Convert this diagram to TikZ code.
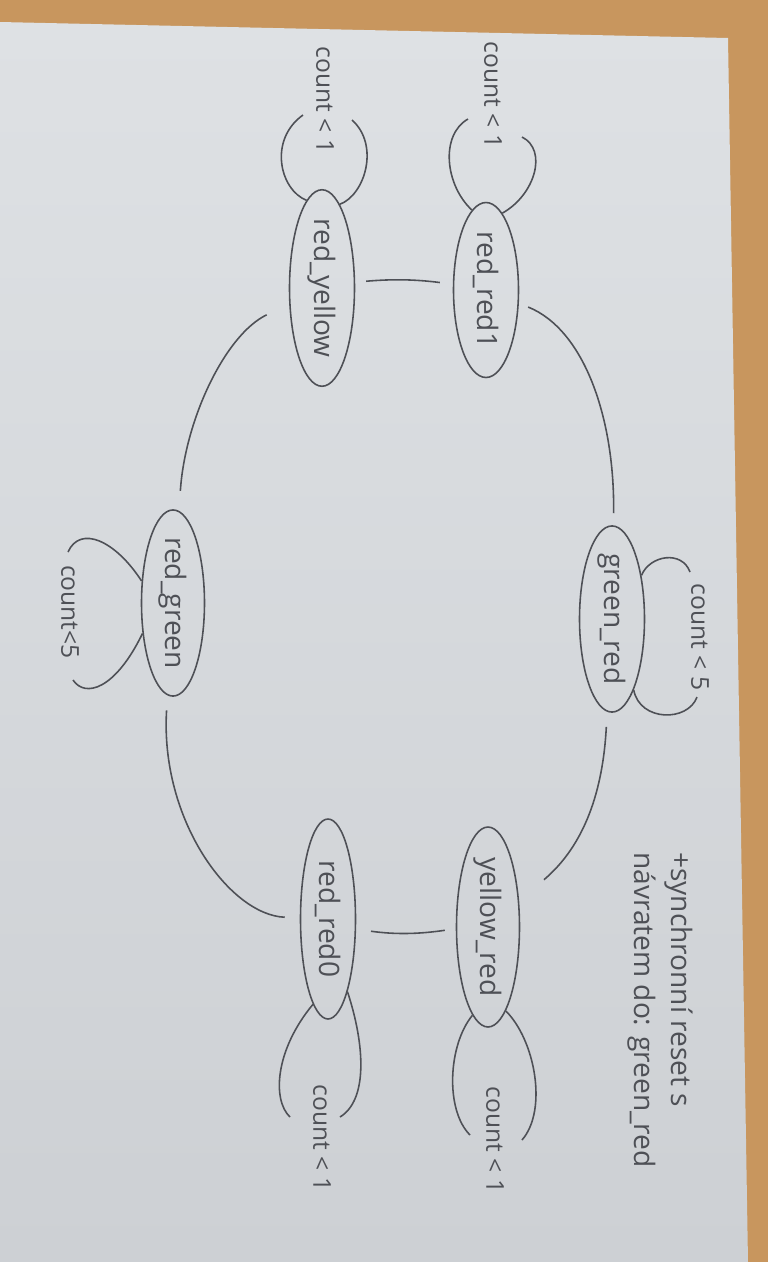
\documentclass[tikz,border=0pt]{standalone}
\usepackage{fontspec}
\setmainfont{Open Sans}
\usetikzlibrary{shapes.geometric}
\definecolor{wood}{HTML}{C8965E}
\definecolor{paper}{HTML}{DEE1E4}
\definecolor{paperdark}{HTML}{CDD0D4}
\definecolor{pencil}{HTML}{4E5056}

\begin{document}
\begin{tikzpicture}[x=0.02cm,y=-0.02cm,
    lightstate/.style={ellipse,draw=pencil,line width=0.9pt,inner sep=0pt,text=pencil,font=\fontsize{16}{19}\selectfont},
    cond/.style={rotate=-90,text=pencil,font=\fontsize{14}{17}\selectfont},
    conn/.style={draw=pencil,line width=0.9pt}]
    % photo: table and sheet
    \fill[wood] (0,0) rectangle (768,1262);
    \shade[top color=paper,bottom color=paperdark] (0,22) -- (728,38) -- (748,1262) -- (0,1262) -- cycle;
    \useasboundingbox (0,0) rectangle (768,1262);
    \node[lightstate,minimum width=1.3cm,minimum height=3.5cm] (rr1) at (486,290) {\rotatebox{-90}{red\_red1}};
    \node[lightstate,minimum width=1.3cm,minimum height=3.5cm] (ry) at (322,288) {\rotatebox{-90}{red\_yellow}};
    \node[lightstate,minimum width=1.26cm,minimum height=3.3cm] (rg) at (173,603) {\rotatebox{-90}{red\_green}};
    \node[lightstate,minimum width=1.3cm,minimum height=3.44cm] (gr) at (612,619) {\rotatebox{-90}{green\_red}};
    \node[lightstate,minimum width=1.26cm,minimum height=4cm] (yr) at (488,927) {\rotatebox{-90}{yellow\_red}};
    \node[lightstate,minimum width=1.1cm,minimum height=4cm] (rr0) at (328,919) {\rotatebox{-90}{red\_red0}};
    \node[cond] (c1) at (493,95) {count < 1};
    \node[cond] (c2) at (325,100) {count < 1};
    \node[cond] (c3) at (700,637) {count < 5};
    \node[cond] (c4) at (70,612) {count<5};
    \node[cond] (c5) at (495,1140) {count < 1};
    \node[cond] (c6) at (322,1138) {count < 1};
    \node[cond,align=left,font=\fontsize{16}{21}\selectfont] (note) at (660,1010) {+synchronní reset s\\návratem do: green\_red};
    \draw[conn,shorten <=0.2cm,shorten >=0.24cm] (rr1) .. controls (585,330) and (615,420) .. (gr);
    \draw[conn,shorten <=0.3cm,shorten >=0.65cm] (gr) .. controls (603,790) and (585,845) .. (yr);
    \draw[conn,shorten <=0.22cm,shorten >=0.3cm] (yr.183) to[bend left=8] (rr0.-20);
    \draw[conn,shorten <=0.3cm,shorten >=0.3cm] (rr0) .. controls (230,915) and (160,820) .. (rg);
    \draw[conn,shorten <=0.4cm,shorten >=0.5cm] (rg) .. controls (185,420) and (225,335) .. (ry);
    \draw[conn,shorten <=0.22cm,shorten >=0.26cm] (ry.10) to[bend left=6] (rr1.170);
    % self loops, open at the condition
    \coordinate (rr1l) at (468,119);
    \coordinate (rr1r) at (522,137);
    \coordinate (ryl) at (303,115);
    \coordinate (ryr) at (352,120);
    \coordinate (grt) at (690,572);
    \coordinate (grb) at (697,697);
    \coordinate (rgt) at (68,552);
    \coordinate (rgb) at (73,680);
    \coordinate (yrl) at (470,1135);
    \coordinate (yrr) at (522,1140);
    \coordinate (rr0l) at (290,1117);
    \coordinate (rr0r) at (340,1117);
    \draw[conn] (rr1.100) .. controls (445,185) and (440,135) .. (rr1l);
    \draw[conn] (rr1.78) .. controls (535,195) and (548,150) .. (rr1r);
    \draw[conn] (ry.100) .. controls (280,190) and (268,140) .. (ryl);
    \draw[conn] (ry.78) .. controls (365,195) and (380,145) .. (ryr);
    \draw[conn] (gr.56) .. controls (650,555) and (682,550) .. (grt);
    \draw[conn] (gr.-73) .. controls (640,722) and (688,722) .. (grb);
    \draw[conn] (rg.145) .. controls (115,540) and (80,525) .. (rgt);
    \draw[conn] (rg.-135) .. controls (115,690) and (85,698) .. (rgb);
    \draw[conn] (yr.-100) .. controls (448,1045) and (445,1110) .. (yrl);
    \draw[conn] (yr.-78) .. controls (535,1040) and (548,1110) .. (yrr);
    \draw[conn] (rr0.-100) .. controls (275,1050) and (272,1100) .. (rr0l);
    \draw[conn] (rr0.-75) .. controls (365,1045) and (368,1100) .. (rr0r);
\end{tikzpicture}
\end{document}
